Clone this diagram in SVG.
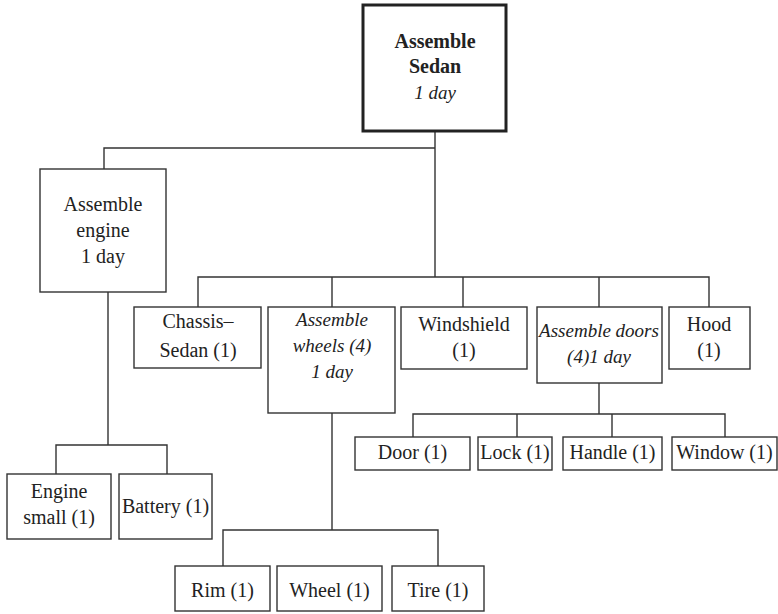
<svg xmlns="http://www.w3.org/2000/svg" width="778" height="614" viewBox="0 0 778 614">
<style>
.box{fill:#fff;stroke:#333;stroke-width:1.4}
.main{fill:#fff;stroke:#222;stroke-width:3}
.ln{fill:none;stroke:#333;stroke-width:1.4}
text{font-family:"Liberation Serif","Times New Roman",serif;font-size:20px;fill:#222;text-anchor:middle}
.it{font-style:italic;font-size:19px}
.b{font-weight:bold}
</style>
<rect width="778" height="614" fill="#fff"/>
<g id="connectors" class="ln">
<path d="M435 131V277M104 169V148H435"/>
<path d="M198 307V277H709V307M332 277V307M463 277V307M599 277V307"/>
<path d="M108 292V445M56 474V445H167V474"/>
<path d="M332 413V530M223 566V530H438V566"/>
<path d="M599 383V414M413 437V414H725V437M517 414V437M612 414V437"/>
</g>
<g id="sedan"><rect class="main" x="363" y="5" width="143" height="126"/>
<text x="435" y="48" class="b">Assemble</text><text x="435" y="73" class="b">Sedan</text><text x="435" y="99" class="it">1 day</text></g>
<g id="engine"><rect class="box" x="40" y="169" width="126" height="123"/>
<text x="103" y="211">Assemble</text><text x="103" y="237">engine</text><text x="103" y="263">1 day</text></g>
<g id="chassis"><rect class="box" x="134" y="307" width="127" height="61"/>
<text x="198" y="328">Chassis–</text><text x="198" y="357">Sedan (1)</text></g>
<g id="wheels"><rect class="box" x="268" y="307" width="127" height="106"/>
<text x="332" y="326" class="it">Assemble</text><text x="332" y="352" class="it">wheels (4)</text><text x="332" y="378" class="it">1 day</text></g>
<g id="windshield"><rect class="box" x="401" y="307" width="126" height="62"/>
<text x="464" y="331">Windshield</text><text x="464" y="357">(1)</text></g>
<g id="doors"><rect class="box" x="537" y="307" width="125" height="76"/>
<text x="599" y="337" class="it">Assemble doors</text><text x="599" y="363" class="it">(4)1 day</text></g>
<g id="hood"><rect class="box" x="669" y="307" width="81" height="62"/>
<text x="709" y="331">Hood</text><text x="709" y="357">(1)</text></g>
<g id="door"><rect class="box" x="355" y="437" width="115" height="33"/><text x="412.5" y="459">Door (1)</text></g>
<g id="lock"><rect class="box" x="478" y="437" width="74" height="33"/><text x="515" y="459">Lock (1)</text></g>
<g id="handle"><rect class="box" x="563" y="437" width="99" height="33"/><text x="612.5" y="459">Handle (1)</text></g>
<g id="window"><rect class="box" x="672" y="437" width="105" height="33"/><text x="724.5" y="459">Window (1)</text></g>
<g id="enginesmall"><rect class="box" x="7" y="474" width="104" height="65"/>
<text x="59" y="498">Engine</text><text x="59" y="524">small (1)</text></g>
<g id="battery"><rect class="box" x="119" y="474" width="93" height="65"/><text x="165.5" y="513">Battery (1)</text></g>
<g id="rim"><rect class="box" x="175" y="566" width="95" height="45"/><text x="222.5" y="597">Rim (1)</text></g>
<g id="wheel"><rect class="box" x="277" y="566" width="105" height="45"/><text x="329.5" y="597">Wheel (1)</text></g>
<g id="tire"><rect class="box" x="392" y="566" width="92" height="45"/><text x="438" y="597">Tire (1)</text></g>
</svg>
